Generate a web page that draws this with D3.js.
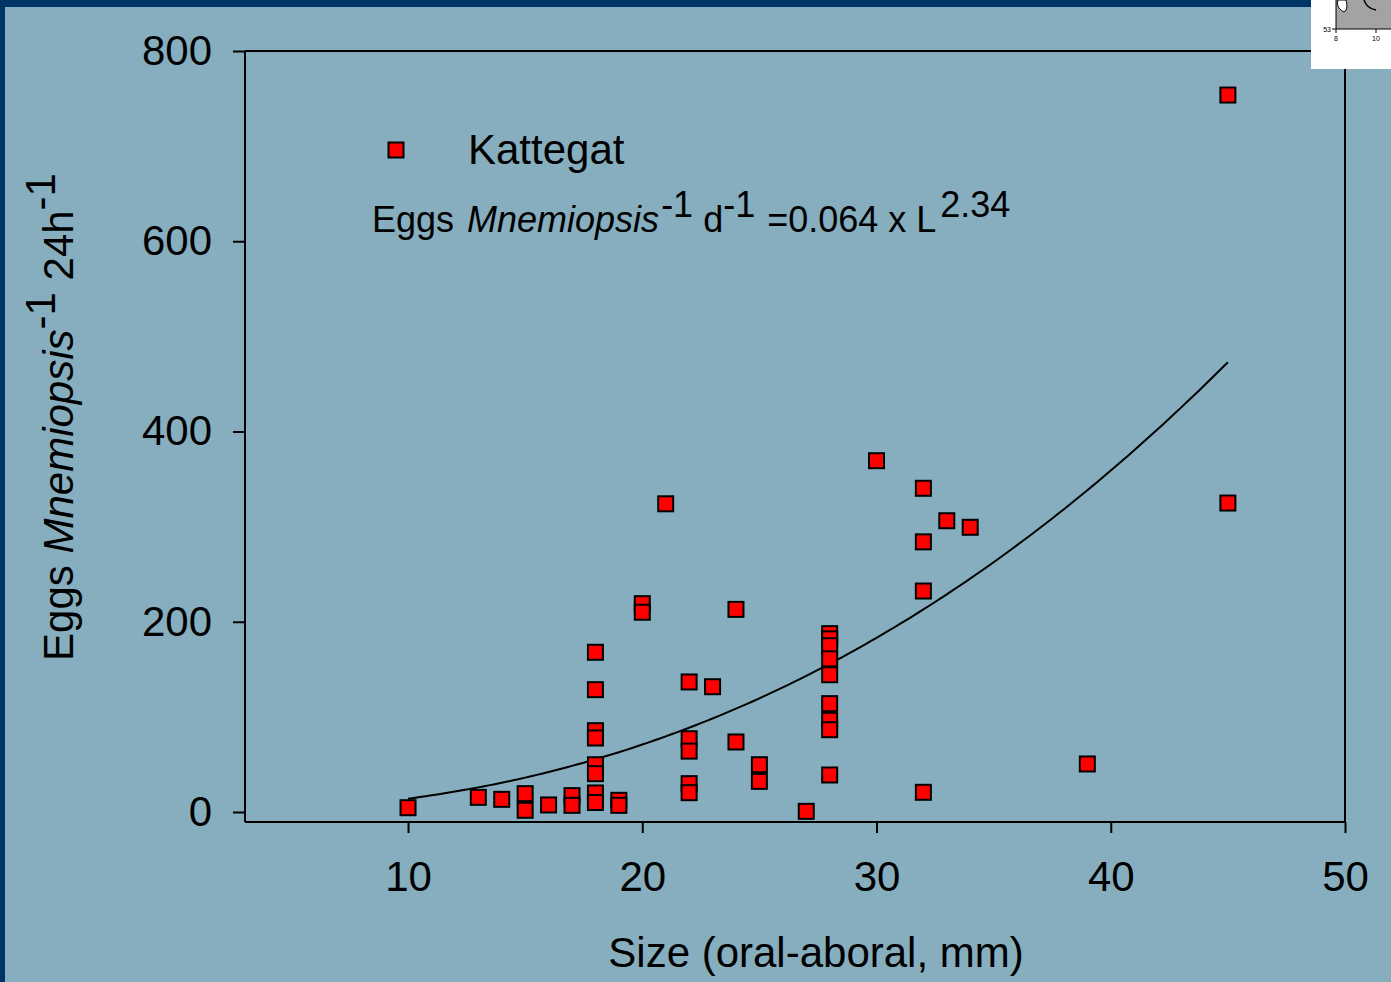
<!DOCTYPE html>
<html>
<head>
<meta charset="utf-8">
<script src="https://cdn.jsdelivr.net/npm/d3@7/dist/d3.min.js"></script>
<style>
  html, body { margin: 0; padding: 0; background: #86AEBE; }
  svg { display: block; }
  text { font-family: "Liberation Sans", Arial, sans-serif; fill: #000; }
</style>
</head>
<body>
<svg id="chart" width="1391" height="982"></svg>
<script>
// ---- data ----
const sizes = [10, 13, 14, 15, 15, 16, 17, 17,
  18, 18, 18, 18, 18, 18, 18, 18,
  19, 19, 20, 20, 21,
  22, 22, 22, 22, 22, 23, 24, 24, 25, 25, 27,
  28, 28, 28, 28, 28, 28, 28, 28, 28,
  30, 32, 32, 32, 32, 33, 34, 39, 45, 45];
const eggs = [4.5, 15.4, 13.3, 19.3, 1.8, 7.4, 17.2, 7,
  167.9, 128.6, 85.5, 77.8, 49.7, 40.3, 20, 10,
  12.3, 7, 219, 210, 324,
  136.7, 77, 64, 29.8, 20.3, 131.7, 213, 73.6, 49.7, 32.2, 0.7,
  187.5, 182, 174.8, 161, 144.3, 113.9, 96.4, 86.5, 38.9,
  369.3, 340.3, 284, 232.3, 20.7, 306.2, 299.3, 50.5, 753.7, 324.8];
const xTicks = [10, 20, 30, 40, 50];
const yTicks = [0, 200, 400, 600, 800];
const fitCoef = 0.064, fitExp = 2.34, fitRange = [10, 45];
const seriesName = "Kattegat";

const svg = d3.select("#chart");

// background and frame
svg.append("rect").attr("x", 0).attr("y", 0).attr("width", 1391).attr("height", 982).attr("fill", "#86AEBE");
svg.append("rect").attr("x", 0).attr("y", 0).attr("width", 1391).attr("height", 7).attr("fill", "#003366");
svg.append("rect").attr("x", 0).attr("y", 0).attr("width", 5).attr("height", 982).attr("fill", "#003366");

const x = d3.scaleLinear().domain([3.04, 50]).range([245, 1345]);
const y = d3.scaleLinear().domain([0, 800]).range([812, 51]);
const yBottom = 822;

// box (top and right lines)
svg.append("line").attr("x1", 245).attr("x2", 1345).attr("y1", 51).attr("y2", 51)
  .attr("stroke", "#000").attr("stroke-width", 2);
svg.append("line").attr("x1", 1345).attr("x2", 1345).attr("y1", 51).attr("y2", yBottom)
  .attr("stroke", "#000").attr("stroke-width", 2);

// axes
const xAxis = d3.axisBottom(x).tickValues(xTicks).tickSize(11).tickPadding(28).tickSizeOuter(0);
const gx = svg.append("g").attr("transform", `translate(0,${yBottom})`).call(xAxis);
gx.select(".domain").attr("d", `M245,0H1345`).attr("stroke-width", 2);
gx.selectAll(".tick line").attr("stroke-width", 2);
gx.selectAll(".tick text").attr("font-size", 42).attr("font-family", "Liberation Sans, Arial, sans-serif").attr("dy", "0.71em");

const yAxis = d3.axisLeft(y).tickValues(yTicks).tickSize(12).tickPadding(21).tickSizeOuter(0);
const gy = svg.append("g").attr("transform", `translate(245,0)`).call(yAxis);
gy.select(".domain").attr("d", `M0,51V${yBottom}`).attr("stroke-width", 2);
gy.selectAll(".tick line").attr("stroke-width", 2);
gy.selectAll(".tick text").attr("font-size", 42).attr("font-family", "Liberation Sans, Arial, sans-serif");

// fit curve from the printed equation
const curvePts = d3.range(fitRange[0], fitRange[1] + 0.001, 0.25).map(L => [L, fitCoef * Math.pow(L, fitExp)]);
svg.append("path")
  .attr("d", d3.line().x(d => x(d[0])).y(d => y(d[1]))(curvePts))
  .attr("fill", "none").attr("stroke", "#000").attr("stroke-width", 2);

// points
const S = 15;
svg.append("g").selectAll("rect").data(sizes.map((s, i) => [s, eggs[i]])).join("rect")
  .attr("x", d => x(d[0]) - S / 2).attr("y", d => y(d[1]) - S / 2)
  .attr("width", S).attr("height", S)
  .attr("fill", "#ff0000").attr("stroke", "#000").attr("stroke-width", 2);

// legend
svg.append("rect").attr("x", 396 - 7.5).attr("y", 150 - 7.5).attr("width", 15).attr("height", 15)
  .attr("fill", "#ff0000").attr("stroke", "#000").attr("stroke-width", 2);
svg.append("text").attr("x", 468).attr("y", 164).attr("font-size", 42).text(seriesName);

// equation
const eq = svg.append("text").attr("x", 372).attr("y", 232).attr("font-size", 36);
eq.append("tspan").text("Eggs ");
eq.append("tspan").attr("dx", 3).attr("font-style", "italic").text("Mnemiopsis");
eq.append("tspan").attr("dy", -15).attr("dx", 2).text("-1");
eq.append("tspan").attr("dy", 15).text(" d");
eq.append("tspan").attr("dy", -15).text("-1");
eq.append("tspan").attr("dy", 15).attr("dx", 2).text(" =0.064 x L");
eq.append("tspan").attr("dy", -15).attr("dx", 4).text("2.34");

// axis titles
svg.append("text").attr("x", 816).attr("y", 967).attr("text-anchor", "middle").attr("font-size", 42)
  .text("Size (oral-aboral, mm)");
const yt = svg.append("text").attr("transform", "translate(73,417) rotate(-90)")
  .attr("text-anchor", "middle").attr("font-size", 42);
yt.append("tspan").text("Eggs ");
yt.append("tspan").attr("font-style", "italic").text("Mnemiopsis");
yt.append("tspan").attr("dy", -18).text("-1");
yt.append("tspan").attr("dy", 18).text(" 24h");
yt.append("tspan").attr("dy", -18).text("-1");

// small inset in the top right corner
const inset = svg.append("g");
inset.append("rect").attr("x", 1311).attr("y", 0).attr("width", 80).attr("height", 69).attr("fill", "#fff");
inset.append("rect").attr("x", 1336).attr("y", 0).attr("width", 55).attr("height", 29).attr("fill", "#a3a3a3");
inset.append("path").attr("d", "M1338,0 C1336,6 1340,10 1344,12 C1348,10 1347,4 1346,0 Z")
  .attr("fill", "#fff").attr("stroke", "#000").attr("stroke-width", 1);
inset.append("path").attr("d", "M1364,0 C1366,6 1370,9 1376,10")
  .attr("fill", "none").attr("stroke", "#000").attr("stroke-width", 1.5);
inset.append("line").attr("x1", 1336).attr("x2", 1391).attr("y1", 29).attr("y2", 29).attr("stroke", "#000").attr("stroke-width", 1);
inset.append("line").attr("x1", 1336).attr("x2", 1336).attr("y1", 0).attr("y2", 33).attr("stroke", "#000").attr("stroke-width", 1);
inset.append("line").attr("x1", 1332).attr("x2", 1336).attr("y1", 29).attr("y2", 29).attr("stroke", "#000").attr("stroke-width", 1);
inset.append("line").attr("x1", 1376).attr("x2", 1376).attr("y1", 29).attr("y2", 33).attr("stroke", "#000").attr("stroke-width", 1);
inset.append("text").attr("x", 1331).attr("y", 32).attr("text-anchor", "end").attr("font-size", 7).attr("fill", "#333").text("53");
inset.append("text").attr("x", 1336).attr("y", 41).attr("text-anchor", "middle").attr("font-size", 7).attr("fill", "#333").text("8");
inset.append("text").attr("x", 1376).attr("y", 41).attr("text-anchor", "middle").attr("font-size", 7).attr("fill", "#333").text("10");
</script>
</body>
</html>
